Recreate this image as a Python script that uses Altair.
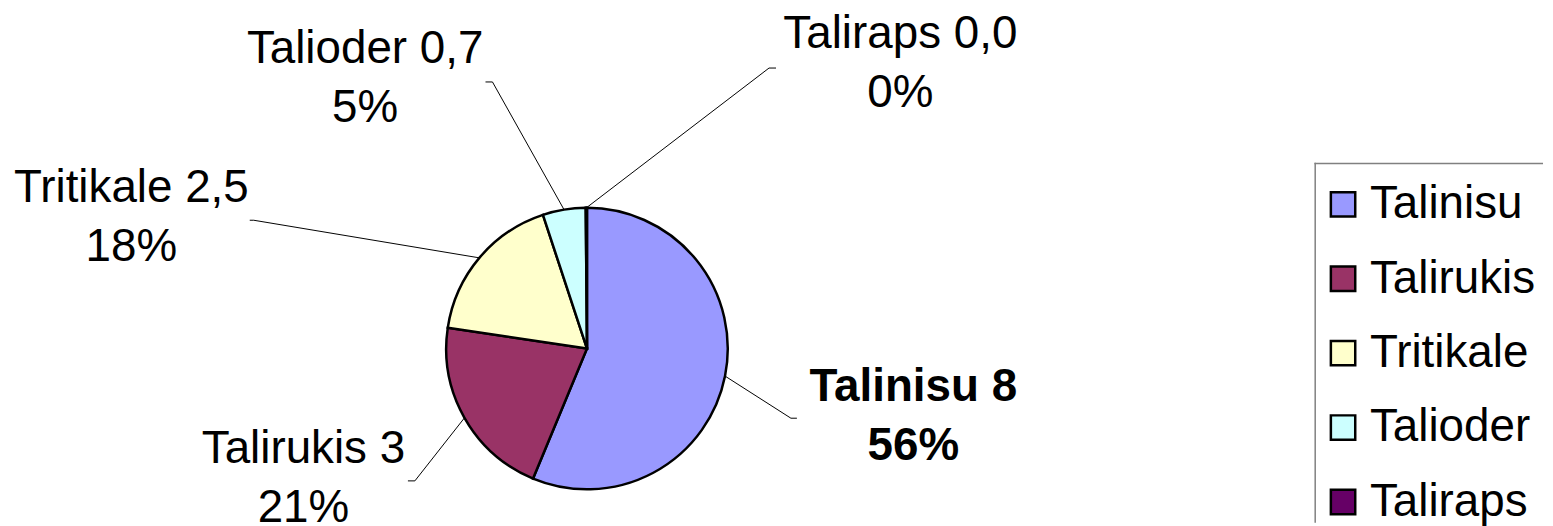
import altair as alt
import pandas as pd

# ---- data ----
CATEGORIES = ["Talinisu", "Talirukis", "Tritikale", "Talioder", "Taliraps"]
VALUES = [8.0, 3.0, 2.5, 0.7, 0.02]
VALUE_TEXT = ["8", "3", "2,5", "0,7", "0,0"]
COLORS = ["#9999FF", "#993366", "#FFFFCC", "#CCFFFF", "#660066"]

# ---- layout (page pixel coordinates; chart origin is at the 8px page margin) ----
OFF = 8
W, H = 1553 - OFF, 526 - OFF
CX, CY, R = 590 - OFF, 349 - OFF, 141.5
LABEL_X = [918, 305, 132, 367, 905]
LABEL_Y = [402, 464, 202, 62, 47]
ELBOW_X = [795, 417, 255, 495, 773]
ELBOW_Y = [419, 482, 220, 81, 67]
END_X = [801, 410, 251, 488, 780]
END_Y = [419, 482, 220, 81, 67]
LEGEND_BOX = (1322 - OFF, 163 - OFF)

df = pd.DataFrame({
    "idx": list(range(len(CATEGORIES))),
    "name": CATEGORIES,
    "value": VALUES,
    "vtxt": VALUE_TEXT,
    "lx": [v - OFF for v in LABEL_X],
    "ly": [v - OFF for v in LABEL_Y],
    "bx": [v - OFF for v in ELBOW_X],
    "by": [v - OFF for v in ELBOW_Y],
    "tx": [v - OFF for v in END_X],
    "ty": [v - OFF for v in END_Y],
})

FONT = "Liberation Sans"

base = alt.Chart(df)

color = alt.Color(
    "name:N",
    sort=CATEGORIES,
    scale=alt.Scale(domain=CATEGORIES, range=COLORS),
    legend=alt.Legend(
        orient="none",
        legendX=1327 - OFF,
        legendY=181 - OFF,
        title=None,
        symbolType="square",
        symbolSize=600,
        symbolStrokeColor="black",
        symbolStrokeWidth=2.5,
        labelFont=FONT,
        labelFontSize=46,
        labelColor="black",
        labelLimit=400,
        labelOffset=4,
        rowPadding=28.8,
        padding=0,
    ),
)

# legend frame: only its top and left sides are inside the picture (thin filled bars)
one = alt.Chart(pd.DataFrame({"f": [0]}))
frame_top = one.mark_rect(fill="#808080", strokeWidth=0).encode(
    x=alt.value(LEGEND_BOX[0] - 0.75), x2=alt.value(W - 2),
    y=alt.value(LEGEND_BOX[1] - 0.75), y2=alt.value(LEGEND_BOX[1] + 0.75),
)
frame_left = one.mark_rect(fill="#808080", strokeWidth=0).encode(
    x=alt.value(LEGEND_BOX[0] - 0.75), x2=alt.value(LEGEND_BOX[0] + 0.75),
    y=alt.value(LEGEND_BOX[1] - 0.75), y2=alt.value(H - 2),
)

pie = base.mark_arc(stroke="black", strokeWidth=2.5, outerRadius=R).encode(
    theta=alt.Theta("value:Q", stack=True),
    order=alt.Order("idx:Q"),
    color=color,
    x=alt.value(CX),
    y=alt.value(CY),
)

geo = (
    base.transform_joinaggregate(total="sum(value)")
    .transform_window(cum="sum(value)", sort=[alt.SortField("idx")], frame=[None, 0])
    .transform_calculate(
        mid="(datum.cum - datum.value / 2) / datum.total * 2 * PI",
        ex=f"{CX} + {R} * sin(datum.mid)",
        ey=f"{CY} - {R} * cos(datum.mid)",
        label="datum.name + ' ' + datum.vtxt + '|' + format(datum.value / datum.total, '.0%')",
    )
)

lead1 = geo.mark_rule(color="black", strokeWidth=1).encode(
    x=alt.X("ex:Q", scale=None, axis=None),
    y=alt.Y("ey:Q", scale=None, axis=None),
    x2="bx:Q",
    y2="by:Q",
)
lead2 = geo.mark_rule(color="black", strokeWidth=1).encode(
    x=alt.X("bx:Q", scale=None, axis=None),
    y=alt.Y("by:Q", scale=None, axis=None),
    x2="tx:Q",
    y2="ty:Q",
)

text_kw = dict(font=FONT, fontSize=46, lineBreak="|", lineHeight=59,
               align="center", baseline="alphabetic", color="black")

labels = geo.transform_filter("datum.idx > 0").mark_text(**text_kw).encode(
    x=alt.X("lx:Q", scale=None, axis=None),
    y=alt.Y("ly:Q", scale=None, axis=None),
    text="label:N",
)
labels_bold = geo.transform_filter("datum.idx == 0").mark_text(fontWeight="bold", **text_kw).encode(
    x=alt.X("lx:Q", scale=None, axis=None),
    y=alt.Y("ly:Q", scale=None, axis=None),
    text="label:N",
)

chart = (
    alt.layer(frame_top, frame_left, pie, lead1, lead2, labels, labels_bold)
    .properties(width=W, height=H, autosize="none", padding=0,
                background="white")
    .configure_view(stroke=None)
)

chart.save("out.html", embed_options={"renderer": "svg", "actions": False})
